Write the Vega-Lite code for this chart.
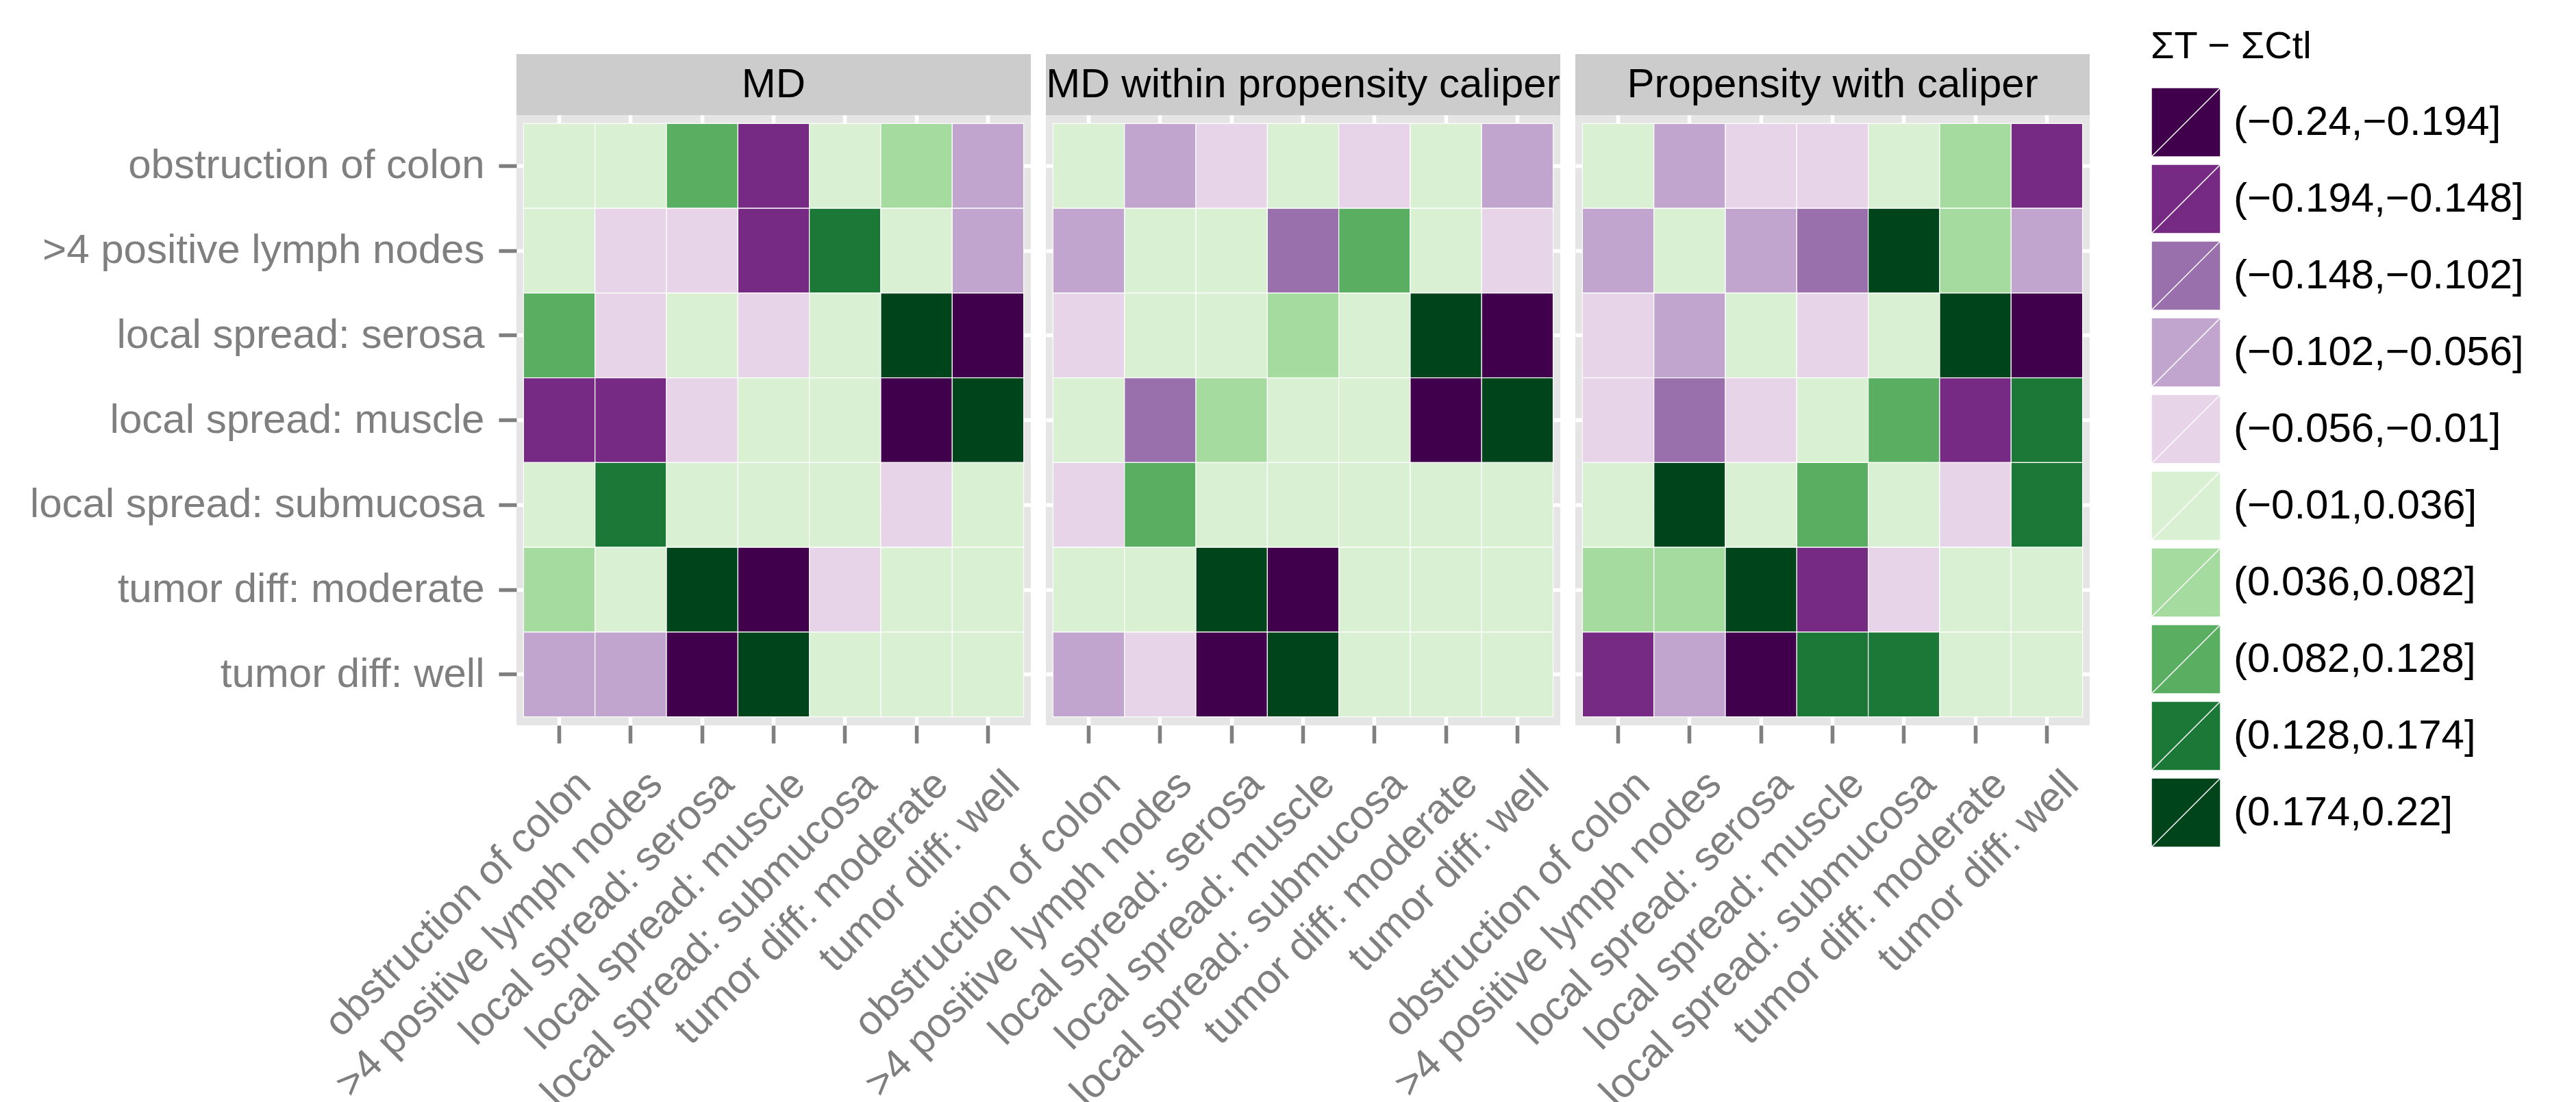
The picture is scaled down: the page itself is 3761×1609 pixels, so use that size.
{
"$schema": "https://vega.github.io/schema/vega-lite/v6.json",
"background": "white",
"padding": {"left": 43, "top": 41, "right": 10, "bottom": 0},
"datasets": {
"panels": [{"panel":"MD"},{"panel":"MD within propensity caliper"},{"panel":"Propensity with caliper"}],
"cells": [
{"panel":"MD","row":"obstruction of colon","col":"obstruction of colon","bin":"(−0.01,0.036]"},
{"panel":"MD","row":"obstruction of colon","col":">4 positive lymph nodes","bin":"(−0.01,0.036]"},
{"panel":"MD","row":"obstruction of colon","col":"local spread: serosa","bin":"(0.082,0.128]"},
{"panel":"MD","row":"obstruction of colon","col":"local spread: muscle","bin":"(−0.194,−0.148]"},
{"panel":"MD","row":"obstruction of colon","col":"local spread: submucosa","bin":"(−0.01,0.036]"},
{"panel":"MD","row":"obstruction of colon","col":"tumor diff: moderate","bin":"(0.036,0.082]"},
{"panel":"MD","row":"obstruction of colon","col":"tumor diff: well","bin":"(−0.102,−0.056]"},
{"panel":"MD","row":">4 positive lymph nodes","col":"obstruction of colon","bin":"(−0.01,0.036]"},
{"panel":"MD","row":">4 positive lymph nodes","col":">4 positive lymph nodes","bin":"(−0.056,−0.01]"},
{"panel":"MD","row":">4 positive lymph nodes","col":"local spread: serosa","bin":"(−0.056,−0.01]"},
{"panel":"MD","row":">4 positive lymph nodes","col":"local spread: muscle","bin":"(−0.194,−0.148]"},
{"panel":"MD","row":">4 positive lymph nodes","col":"local spread: submucosa","bin":"(0.128,0.174]"},
{"panel":"MD","row":">4 positive lymph nodes","col":"tumor diff: moderate","bin":"(−0.01,0.036]"},
{"panel":"MD","row":">4 positive lymph nodes","col":"tumor diff: well","bin":"(−0.102,−0.056]"},
{"panel":"MD","row":"local spread: serosa","col":"obstruction of colon","bin":"(0.082,0.128]"},
{"panel":"MD","row":"local spread: serosa","col":">4 positive lymph nodes","bin":"(−0.056,−0.01]"},
{"panel":"MD","row":"local spread: serosa","col":"local spread: serosa","bin":"(−0.01,0.036]"},
{"panel":"MD","row":"local spread: serosa","col":"local spread: muscle","bin":"(−0.056,−0.01]"},
{"panel":"MD","row":"local spread: serosa","col":"local spread: submucosa","bin":"(−0.01,0.036]"},
{"panel":"MD","row":"local spread: serosa","col":"tumor diff: moderate","bin":"(0.174,0.22]"},
{"panel":"MD","row":"local spread: serosa","col":"tumor diff: well","bin":"(−0.24,−0.194]"},
{"panel":"MD","row":"local spread: muscle","col":"obstruction of colon","bin":"(−0.194,−0.148]"},
{"panel":"MD","row":"local spread: muscle","col":">4 positive lymph nodes","bin":"(−0.194,−0.148]"},
{"panel":"MD","row":"local spread: muscle","col":"local spread: serosa","bin":"(−0.056,−0.01]"},
{"panel":"MD","row":"local spread: muscle","col":"local spread: muscle","bin":"(−0.01,0.036]"},
{"panel":"MD","row":"local spread: muscle","col":"local spread: submucosa","bin":"(−0.01,0.036]"},
{"panel":"MD","row":"local spread: muscle","col":"tumor diff: moderate","bin":"(−0.24,−0.194]"},
{"panel":"MD","row":"local spread: muscle","col":"tumor diff: well","bin":"(0.174,0.22]"},
{"panel":"MD","row":"local spread: submucosa","col":"obstruction of colon","bin":"(−0.01,0.036]"},
{"panel":"MD","row":"local spread: submucosa","col":">4 positive lymph nodes","bin":"(0.128,0.174]"},
{"panel":"MD","row":"local spread: submucosa","col":"local spread: serosa","bin":"(−0.01,0.036]"},
{"panel":"MD","row":"local spread: submucosa","col":"local spread: muscle","bin":"(−0.01,0.036]"},
{"panel":"MD","row":"local spread: submucosa","col":"local spread: submucosa","bin":"(−0.01,0.036]"},
{"panel":"MD","row":"local spread: submucosa","col":"tumor diff: moderate","bin":"(−0.056,−0.01]"},
{"panel":"MD","row":"local spread: submucosa","col":"tumor diff: well","bin":"(−0.01,0.036]"},
{"panel":"MD","row":"tumor diff: moderate","col":"obstruction of colon","bin":"(0.036,0.082]"},
{"panel":"MD","row":"tumor diff: moderate","col":">4 positive lymph nodes","bin":"(−0.01,0.036]"},
{"panel":"MD","row":"tumor diff: moderate","col":"local spread: serosa","bin":"(0.174,0.22]"},
{"panel":"MD","row":"tumor diff: moderate","col":"local spread: muscle","bin":"(−0.24,−0.194]"},
{"panel":"MD","row":"tumor diff: moderate","col":"local spread: submucosa","bin":"(−0.056,−0.01]"},
{"panel":"MD","row":"tumor diff: moderate","col":"tumor diff: moderate","bin":"(−0.01,0.036]"},
{"panel":"MD","row":"tumor diff: moderate","col":"tumor diff: well","bin":"(−0.01,0.036]"},
{"panel":"MD","row":"tumor diff: well","col":"obstruction of colon","bin":"(−0.102,−0.056]"},
{"panel":"MD","row":"tumor diff: well","col":">4 positive lymph nodes","bin":"(−0.102,−0.056]"},
{"panel":"MD","row":"tumor diff: well","col":"local spread: serosa","bin":"(−0.24,−0.194]"},
{"panel":"MD","row":"tumor diff: well","col":"local spread: muscle","bin":"(0.174,0.22]"},
{"panel":"MD","row":"tumor diff: well","col":"local spread: submucosa","bin":"(−0.01,0.036]"},
{"panel":"MD","row":"tumor diff: well","col":"tumor diff: moderate","bin":"(−0.01,0.036]"},
{"panel":"MD","row":"tumor diff: well","col":"tumor diff: well","bin":"(−0.01,0.036]"},
{"panel":"MD within propensity caliper","row":"obstruction of colon","col":"obstruction of colon","bin":"(−0.01,0.036]"},
{"panel":"MD within propensity caliper","row":"obstruction of colon","col":">4 positive lymph nodes","bin":"(−0.102,−0.056]"},
{"panel":"MD within propensity caliper","row":"obstruction of colon","col":"local spread: serosa","bin":"(−0.056,−0.01]"},
{"panel":"MD within propensity caliper","row":"obstruction of colon","col":"local spread: muscle","bin":"(−0.01,0.036]"},
{"panel":"MD within propensity caliper","row":"obstruction of colon","col":"local spread: submucosa","bin":"(−0.056,−0.01]"},
{"panel":"MD within propensity caliper","row":"obstruction of colon","col":"tumor diff: moderate","bin":"(−0.01,0.036]"},
{"panel":"MD within propensity caliper","row":"obstruction of colon","col":"tumor diff: well","bin":"(−0.102,−0.056]"},
{"panel":"MD within propensity caliper","row":">4 positive lymph nodes","col":"obstruction of colon","bin":"(−0.102,−0.056]"},
{"panel":"MD within propensity caliper","row":">4 positive lymph nodes","col":">4 positive lymph nodes","bin":"(−0.01,0.036]"},
{"panel":"MD within propensity caliper","row":">4 positive lymph nodes","col":"local spread: serosa","bin":"(−0.01,0.036]"},
{"panel":"MD within propensity caliper","row":">4 positive lymph nodes","col":"local spread: muscle","bin":"(−0.148,−0.102]"},
{"panel":"MD within propensity caliper","row":">4 positive lymph nodes","col":"local spread: submucosa","bin":"(0.082,0.128]"},
{"panel":"MD within propensity caliper","row":">4 positive lymph nodes","col":"tumor diff: moderate","bin":"(−0.01,0.036]"},
{"panel":"MD within propensity caliper","row":">4 positive lymph nodes","col":"tumor diff: well","bin":"(−0.056,−0.01]"},
{"panel":"MD within propensity caliper","row":"local spread: serosa","col":"obstruction of colon","bin":"(−0.056,−0.01]"},
{"panel":"MD within propensity caliper","row":"local spread: serosa","col":">4 positive lymph nodes","bin":"(−0.01,0.036]"},
{"panel":"MD within propensity caliper","row":"local spread: serosa","col":"local spread: serosa","bin":"(−0.01,0.036]"},
{"panel":"MD within propensity caliper","row":"local spread: serosa","col":"local spread: muscle","bin":"(0.036,0.082]"},
{"panel":"MD within propensity caliper","row":"local spread: serosa","col":"local spread: submucosa","bin":"(−0.01,0.036]"},
{"panel":"MD within propensity caliper","row":"local spread: serosa","col":"tumor diff: moderate","bin":"(0.174,0.22]"},
{"panel":"MD within propensity caliper","row":"local spread: serosa","col":"tumor diff: well","bin":"(−0.24,−0.194]"},
{"panel":"MD within propensity caliper","row":"local spread: muscle","col":"obstruction of colon","bin":"(−0.01,0.036]"},
{"panel":"MD within propensity caliper","row":"local spread: muscle","col":">4 positive lymph nodes","bin":"(−0.148,−0.102]"},
{"panel":"MD within propensity caliper","row":"local spread: muscle","col":"local spread: serosa","bin":"(0.036,0.082]"},
{"panel":"MD within propensity caliper","row":"local spread: muscle","col":"local spread: muscle","bin":"(−0.01,0.036]"},
{"panel":"MD within propensity caliper","row":"local spread: muscle","col":"local spread: submucosa","bin":"(−0.01,0.036]"},
{"panel":"MD within propensity caliper","row":"local spread: muscle","col":"tumor diff: moderate","bin":"(−0.24,−0.194]"},
{"panel":"MD within propensity caliper","row":"local spread: muscle","col":"tumor diff: well","bin":"(0.174,0.22]"},
{"panel":"MD within propensity caliper","row":"local spread: submucosa","col":"obstruction of colon","bin":"(−0.056,−0.01]"},
{"panel":"MD within propensity caliper","row":"local spread: submucosa","col":">4 positive lymph nodes","bin":"(0.082,0.128]"},
{"panel":"MD within propensity caliper","row":"local spread: submucosa","col":"local spread: serosa","bin":"(−0.01,0.036]"},
{"panel":"MD within propensity caliper","row":"local spread: submucosa","col":"local spread: muscle","bin":"(−0.01,0.036]"},
{"panel":"MD within propensity caliper","row":"local spread: submucosa","col":"local spread: submucosa","bin":"(−0.01,0.036]"},
{"panel":"MD within propensity caliper","row":"local spread: submucosa","col":"tumor diff: moderate","bin":"(−0.01,0.036]"},
{"panel":"MD within propensity caliper","row":"local spread: submucosa","col":"tumor diff: well","bin":"(−0.01,0.036]"},
{"panel":"MD within propensity caliper","row":"tumor diff: moderate","col":"obstruction of colon","bin":"(−0.01,0.036]"},
{"panel":"MD within propensity caliper","row":"tumor diff: moderate","col":">4 positive lymph nodes","bin":"(−0.01,0.036]"},
{"panel":"MD within propensity caliper","row":"tumor diff: moderate","col":"local spread: serosa","bin":"(0.174,0.22]"},
{"panel":"MD within propensity caliper","row":"tumor diff: moderate","col":"local spread: muscle","bin":"(−0.24,−0.194]"},
{"panel":"MD within propensity caliper","row":"tumor diff: moderate","col":"local spread: submucosa","bin":"(−0.01,0.036]"},
{"panel":"MD within propensity caliper","row":"tumor diff: moderate","col":"tumor diff: moderate","bin":"(−0.01,0.036]"},
{"panel":"MD within propensity caliper","row":"tumor diff: moderate","col":"tumor diff: well","bin":"(−0.01,0.036]"},
{"panel":"MD within propensity caliper","row":"tumor diff: well","col":"obstruction of colon","bin":"(−0.102,−0.056]"},
{"panel":"MD within propensity caliper","row":"tumor diff: well","col":">4 positive lymph nodes","bin":"(−0.056,−0.01]"},
{"panel":"MD within propensity caliper","row":"tumor diff: well","col":"local spread: serosa","bin":"(−0.24,−0.194]"},
{"panel":"MD within propensity caliper","row":"tumor diff: well","col":"local spread: muscle","bin":"(0.174,0.22]"},
{"panel":"MD within propensity caliper","row":"tumor diff: well","col":"local spread: submucosa","bin":"(−0.01,0.036]"},
{"panel":"MD within propensity caliper","row":"tumor diff: well","col":"tumor diff: moderate","bin":"(−0.01,0.036]"},
{"panel":"MD within propensity caliper","row":"tumor diff: well","col":"tumor diff: well","bin":"(−0.01,0.036]"},
{"panel":"Propensity with caliper","row":"obstruction of colon","col":"obstruction of colon","bin":"(−0.01,0.036]"},
{"panel":"Propensity with caliper","row":"obstruction of colon","col":">4 positive lymph nodes","bin":"(−0.102,−0.056]"},
{"panel":"Propensity with caliper","row":"obstruction of colon","col":"local spread: serosa","bin":"(−0.056,−0.01]"},
{"panel":"Propensity with caliper","row":"obstruction of colon","col":"local spread: muscle","bin":"(−0.056,−0.01]"},
{"panel":"Propensity with caliper","row":"obstruction of colon","col":"local spread: submucosa","bin":"(−0.01,0.036]"},
{"panel":"Propensity with caliper","row":"obstruction of colon","col":"tumor diff: moderate","bin":"(0.036,0.082]"},
{"panel":"Propensity with caliper","row":"obstruction of colon","col":"tumor diff: well","bin":"(−0.194,−0.148]"},
{"panel":"Propensity with caliper","row":">4 positive lymph nodes","col":"obstruction of colon","bin":"(−0.102,−0.056]"},
{"panel":"Propensity with caliper","row":">4 positive lymph nodes","col":">4 positive lymph nodes","bin":"(−0.01,0.036]"},
{"panel":"Propensity with caliper","row":">4 positive lymph nodes","col":"local spread: serosa","bin":"(−0.102,−0.056]"},
{"panel":"Propensity with caliper","row":">4 positive lymph nodes","col":"local spread: muscle","bin":"(−0.148,−0.102]"},
{"panel":"Propensity with caliper","row":">4 positive lymph nodes","col":"local spread: submucosa","bin":"(0.174,0.22]"},
{"panel":"Propensity with caliper","row":">4 positive lymph nodes","col":"tumor diff: moderate","bin":"(0.036,0.082]"},
{"panel":"Propensity with caliper","row":">4 positive lymph nodes","col":"tumor diff: well","bin":"(−0.102,−0.056]"},
{"panel":"Propensity with caliper","row":"local spread: serosa","col":"obstruction of colon","bin":"(−0.056,−0.01]"},
{"panel":"Propensity with caliper","row":"local spread: serosa","col":">4 positive lymph nodes","bin":"(−0.102,−0.056]"},
{"panel":"Propensity with caliper","row":"local spread: serosa","col":"local spread: serosa","bin":"(−0.01,0.036]"},
{"panel":"Propensity with caliper","row":"local spread: serosa","col":"local spread: muscle","bin":"(−0.056,−0.01]"},
{"panel":"Propensity with caliper","row":"local spread: serosa","col":"local spread: submucosa","bin":"(−0.01,0.036]"},
{"panel":"Propensity with caliper","row":"local spread: serosa","col":"tumor diff: moderate","bin":"(0.174,0.22]"},
{"panel":"Propensity with caliper","row":"local spread: serosa","col":"tumor diff: well","bin":"(−0.24,−0.194]"},
{"panel":"Propensity with caliper","row":"local spread: muscle","col":"obstruction of colon","bin":"(−0.056,−0.01]"},
{"panel":"Propensity with caliper","row":"local spread: muscle","col":">4 positive lymph nodes","bin":"(−0.148,−0.102]"},
{"panel":"Propensity with caliper","row":"local spread: muscle","col":"local spread: serosa","bin":"(−0.056,−0.01]"},
{"panel":"Propensity with caliper","row":"local spread: muscle","col":"local spread: muscle","bin":"(−0.01,0.036]"},
{"panel":"Propensity with caliper","row":"local spread: muscle","col":"local spread: submucosa","bin":"(0.082,0.128]"},
{"panel":"Propensity with caliper","row":"local spread: muscle","col":"tumor diff: moderate","bin":"(−0.194,−0.148]"},
{"panel":"Propensity with caliper","row":"local spread: muscle","col":"tumor diff: well","bin":"(0.128,0.174]"},
{"panel":"Propensity with caliper","row":"local spread: submucosa","col":"obstruction of colon","bin":"(−0.01,0.036]"},
{"panel":"Propensity with caliper","row":"local spread: submucosa","col":">4 positive lymph nodes","bin":"(0.174,0.22]"},
{"panel":"Propensity with caliper","row":"local spread: submucosa","col":"local spread: serosa","bin":"(−0.01,0.036]"},
{"panel":"Propensity with caliper","row":"local spread: submucosa","col":"local spread: muscle","bin":"(0.082,0.128]"},
{"panel":"Propensity with caliper","row":"local spread: submucosa","col":"local spread: submucosa","bin":"(−0.01,0.036]"},
{"panel":"Propensity with caliper","row":"local spread: submucosa","col":"tumor diff: moderate","bin":"(−0.056,−0.01]"},
{"panel":"Propensity with caliper","row":"local spread: submucosa","col":"tumor diff: well","bin":"(0.128,0.174]"},
{"panel":"Propensity with caliper","row":"tumor diff: moderate","col":"obstruction of colon","bin":"(0.036,0.082]"},
{"panel":"Propensity with caliper","row":"tumor diff: moderate","col":">4 positive lymph nodes","bin":"(0.036,0.082]"},
{"panel":"Propensity with caliper","row":"tumor diff: moderate","col":"local spread: serosa","bin":"(0.174,0.22]"},
{"panel":"Propensity with caliper","row":"tumor diff: moderate","col":"local spread: muscle","bin":"(−0.194,−0.148]"},
{"panel":"Propensity with caliper","row":"tumor diff: moderate","col":"local spread: submucosa","bin":"(−0.056,−0.01]"},
{"panel":"Propensity with caliper","row":"tumor diff: moderate","col":"tumor diff: moderate","bin":"(−0.01,0.036]"},
{"panel":"Propensity with caliper","row":"tumor diff: moderate","col":"tumor diff: well","bin":"(−0.01,0.036]"},
{"panel":"Propensity with caliper","row":"tumor diff: well","col":"obstruction of colon","bin":"(−0.194,−0.148]"},
{"panel":"Propensity with caliper","row":"tumor diff: well","col":">4 positive lymph nodes","bin":"(−0.102,−0.056]"},
{"panel":"Propensity with caliper","row":"tumor diff: well","col":"local spread: serosa","bin":"(−0.24,−0.194]"},
{"panel":"Propensity with caliper","row":"tumor diff: well","col":"local spread: muscle","bin":"(0.128,0.174]"},
{"panel":"Propensity with caliper","row":"tumor diff: well","col":"local spread: submucosa","bin":"(0.128,0.174]"},
{"panel":"Propensity with caliper","row":"tumor diff: well","col":"tumor diff: moderate","bin":"(−0.01,0.036]"},
{"panel":"Propensity with caliper","row":"tumor diff: well","col":"tumor diff: well","bin":"(−0.01,0.036]"}
]
},
"vconcat": [
{"hconcat": [
 {"data": {"name": "panels"}, "transform": [{"filter": {"field": "panel", "equal": "MD"}}],
  "width": 751, "height": 89, "view": {"fill": "#CCCCCC", "stroke": null},
  "mark": {"type": "text", "fontSize": 60, "color": "black", "font": "Liberation Sans", "baseline": "middle"},
  "encoding": {"text": {"field": "panel"}}},
 {"data": {"name": "panels"}, "transform": [{"filter": {"field": "panel", "equal": "MD within propensity caliper"}}],
  "width": 751, "height": 89, "view": {"fill": "#CCCCCC", "stroke": null},
  "mark": {"type": "text", "fontSize": 60, "color": "black", "font": "Liberation Sans", "baseline": "middle"},
  "encoding": {"text": {"field": "panel"}}},
 {"data": {"name": "panels"}, "transform": [{"filter": {"field": "panel", "equal": "Propensity with caliper"}}],
  "width": 751, "height": 89, "view": {"fill": "#CCCCCC", "stroke": null},
  "mark": {"type": "text", "fontSize": 60, "color": "black", "font": "Liberation Sans", "baseline": "middle"},
  "encoding": {"text": {"field": "panel"}}}
 ], "spacing": 22, "bounds": "flush"},
{"hconcat": [
 {"data": {"name": "cells"}, "transform": [{"filter": {"field": "panel", "equal": "MD"}}],
  "width": 751, "height": 891,
  "mark": {"type": "rect", "stroke": "white", "strokeWidth": 1.2},
  "encoding": {
   "x": {"field": "col", "type": "nominal", "title": null, "sort": ["obstruction of colon", ">4 positive lymph nodes", "local spread: serosa", "local spread: muscle", "local spread: submucosa", "tumor diff: moderate", "tumor diff: well"], "scale": {"paddingInner": 0, "paddingOuter": 0.1}, "axis": {"zindex": 0}},
   "y": {"field": "row", "type": "nominal", "title": null, "sort": ["obstruction of colon", ">4 positive lymph nodes", "local spread: serosa", "local spread: muscle", "local spread: submucosa", "tumor diff: moderate", "tumor diff: well"], "scale": {"paddingInner": 0, "paddingOuter": 0.1}, "axis": {"labelPadding": 21, "zindex": 0}},
   "color": {"field": "bin", "type": "nominal", "title": "ΣT − ΣCtl",
     "scale": {"domain": ["(−0.24,−0.194]", "(−0.194,−0.148]", "(−0.148,−0.102]", "(−0.102,−0.056]", "(−0.056,−0.01]", "(−0.01,0.036]", "(0.036,0.082]", "(0.082,0.128]", "(0.128,0.174]", "(0.174,0.22]"],
               "range": ["#40004b", "#762a83", "#9970ab", "#c2a5cf", "#e7d4e8", "#d9f0d3", "#a6dba0", "#5aae61", "#1b7837", "#00441b"]},
     "legend": {"orient": "none", "legendX": 2386, "legendY": -38}}
  }},
 {"data": {"name": "cells"}, "transform": [{"filter": {"field": "panel", "equal": "MD within propensity caliper"}}],
  "width": 751, "height": 891,
  "mark": {"type": "rect", "stroke": "white", "strokeWidth": 1.2},
  "encoding": {
   "x": {"field": "col", "type": "nominal", "title": null, "sort": ["obstruction of colon", ">4 positive lymph nodes", "local spread: serosa", "local spread: muscle", "local spread: submucosa", "tumor diff: moderate", "tumor diff: well"], "scale": {"paddingInner": 0, "paddingOuter": 0.1}, "axis": {"zindex": 0}},
   "y": {"field": "row", "type": "nominal", "title": null, "sort": ["obstruction of colon", ">4 positive lymph nodes", "local spread: serosa", "local spread: muscle", "local spread: submucosa", "tumor diff: moderate", "tumor diff: well"], "scale": {"paddingInner": 0, "paddingOuter": 0.1}, "axis": {"labels": false, "ticks": false, "zindex": 0}},
   "color": {"field": "bin", "type": "nominal", "title": "ΣT − ΣCtl",
     "scale": {"domain": ["(−0.24,−0.194]", "(−0.194,−0.148]", "(−0.148,−0.102]", "(−0.102,−0.056]", "(−0.056,−0.01]", "(−0.01,0.036]", "(0.036,0.082]", "(0.082,0.128]", "(0.128,0.174]", "(0.174,0.22]"],
               "range": ["#40004b", "#762a83", "#9970ab", "#c2a5cf", "#e7d4e8", "#d9f0d3", "#a6dba0", "#5aae61", "#1b7837", "#00441b"]},
     "legend": {"orient": "none", "legendX": 2386, "legendY": -38}}
  }},
 {"data": {"name": "cells"}, "transform": [{"filter": {"field": "panel", "equal": "Propensity with caliper"}}],
  "width": 751, "height": 891,
  "mark": {"type": "rect", "stroke": "white", "strokeWidth": 1.2},
  "encoding": {
   "x": {"field": "col", "type": "nominal", "title": null, "sort": ["obstruction of colon", ">4 positive lymph nodes", "local spread: serosa", "local spread: muscle", "local spread: submucosa", "tumor diff: moderate", "tumor diff: well"], "scale": {"paddingInner": 0, "paddingOuter": 0.1}, "axis": {"zindex": 0}},
   "y": {"field": "row", "type": "nominal", "title": null, "sort": ["obstruction of colon", ">4 positive lymph nodes", "local spread: serosa", "local spread: muscle", "local spread: submucosa", "tumor diff: moderate", "tumor diff: well"], "scale": {"paddingInner": 0, "paddingOuter": 0.1}, "axis": {"labels": false, "ticks": false, "zindex": 0}},
   "color": {"field": "bin", "type": "nominal", "title": "ΣT − ΣCtl",
     "scale": {"domain": ["(−0.24,−0.194]", "(−0.194,−0.148]", "(−0.148,−0.102]", "(−0.102,−0.056]", "(−0.056,−0.01]", "(−0.01,0.036]", "(0.036,0.082]", "(0.082,0.128]", "(0.128,0.174]", "(0.174,0.22]"],
               "range": ["#40004b", "#762a83", "#9970ab", "#c2a5cf", "#e7d4e8", "#d9f0d3", "#a6dba0", "#5aae61", "#1b7837", "#00441b"]},
     "legend": {"orient": "none", "legendX": 2386, "legendY": -38}}
  }}
 ], "spacing": 22, "bounds": "flush"}
],
"spacing": 0,
"config": {
 "font": "Liberation Sans",
 "view": {"fill": "#E5E5E5", "stroke": null},
 "axis": {"domain": false, "grid": true, "gridColor": "white", "gridWidth": 5.5, "gridOpacity": 1, "zindex": 0,
          "tickColor": "#7F7F7F", "tickWidth": 5.5, "tickSize": 26,
          "labelColor": "#7F7F7F", "labelFontSize": 60, "labelFont": "Liberation Sans", "labelLimit": 1000, "labelPadding": 21},
 "axisX": {"labelAngle": -45, "labelAlign": "right", "labelBaseline": "top", "labelPadding": 30, "labelOffset": 16},
 "legend": {"symbolType": "M-1,-1H1V1H-1Z M-1,1L1,-1", "symbolSize": 10201, "symbolStrokeColor": "white", "symbolStrokeWidth": 1.5, "symbolOpacity": 1,
            "labelFontSize": 60, "labelColor": "black", "labelFont": "Liberation Sans", "labelOffset": 18, "labelLimit": 1000,
            "rowPadding": 5, "titleFontSize": 56, "titleFontWeight": "normal", "titleColor": "black", "titleFont": "Liberation Sans",
            "titlePadding": 30, "padding": 0, "titleLimit": 1000}
}
}
